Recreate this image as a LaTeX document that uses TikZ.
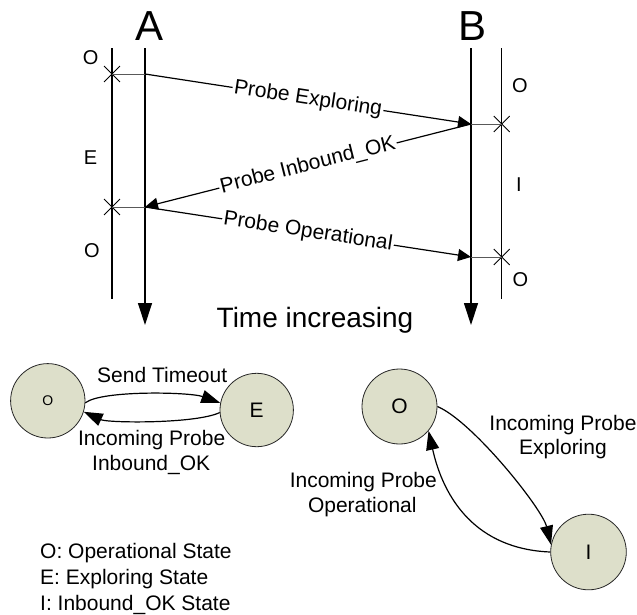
\documentclass[tikz,border=0pt]{standalone}
\usepackage{fontspec}
\setmainfont{Liberation Sans}
\usetikzlibrary{arrows.meta,shapes.misc}
\definecolor{statefill}{RGB}{221,223,202}
\begin{document}
\begin{tikzpicture}[x=1pt,y=-1pt,
  lifeline/.style={line width=1.2pt,-{Triangle[length=22pt,width=14pt]}},
  stateline/.style={line width=1.1pt},
  xmark/.style={cross out,draw,line width=0.9pt,minimum size=15pt,inner sep=0pt},
  tick/.style={line width=0.8pt,black!65},
  msg/.style={line width=1.2pt,-{Triangle[length=13pt,width=12pt]}},
  lbl/.style={font=\fontsize{21pt}{25pt}\selectfont,inner sep=0pt},
  msglabel/.style={lbl,sloped,fill=white,inner sep=1.5pt},
  phase/.style={font=\fontsize{20pt}{24pt}\selectfont,anchor=base,inner sep=0pt},
  state/.style={circle,draw=black!85,line width=0.8pt,fill=statefill,inner sep=0pt,
    font=\fontsize{21pt}{25pt}\selectfont},
  arc/.style={line width=1.2pt,-{Triangle[length=19pt,width=13pt]}}
]
\useasboundingbox (0,0) rectangle (637,614);
\fill[white] (0,0) rectangle (637,614);

% ---------- time lines of the two peers ----------
\node[font=\fontsize{42pt}{46pt}\selectfont,anchor=base,inner sep=0pt] (peerA) at (150,40) {A};
\node[font=\fontsize{42pt}{46pt}\selectfont,anchor=base,inner sep=0pt] (peerB) at (473,40) {B};

\coordinate (topA) at (145,48);   \coordinate (endA) at (145,325);
\coordinate (topB) at (471,48);   \coordinate (endB) at (471,325);
\coordinate (stA0) at (112,48);   \coordinate (stA1) at (112,299);
\coordinate (stB0) at (501.7,48); \coordinate (stB1) at (501.7,299);

\draw[lifeline] (topA) -- (endA);
\draw[lifeline] (topB) -- (endB);
\draw[stateline] (stA0) -- (stA1);
\draw[stateline] (stB0) -- (stB1);

% message points on the time lines
\coordinate (a1) at (145,74);
\coordinate (a2) at (145,207);
\coordinate (b1) at (471,124);
\coordinate (b2) at (471,257);

% state changes
\node[xmark] (xa1) at (112,74) {};
\node[xmark] (xa2) at (112,207) {};
\node[xmark] (xb1) at (501.7,124) {};
\node[xmark] (xb2) at (501.7,257) {};
\draw[tick] (xa1.center) -- (a1);
\draw[tick] (xa2.center) -- (a2);
\draw[tick] (b1) -- (xb1.center);
\draw[tick] (b2) -- (xb2.center);

% states along the time lines
\node[phase] (pa1) at (90.7,64)  {O};
\node[phase] (pa2) at (90.5,164) {E};
\node[phase] (pa3) at (92,257.3) {O};
\node[phase] (pb1) at (520,92.7) {O};
\node[phase] (pb2) at (519,191) {I};
\node[phase] (pb3) at (520.3,286.7) {O};

% probes
\draw[msg] (a1) -- node[msglabel] {Probe Exploring} (b1);
\draw[msg] (b1) -- node[msglabel] {Probe Inbound\_OK} (a2);
\draw[msg] (a2) -- node[msglabel] {Probe Operational} (b2);

\node[font=\fontsize{28pt}{32pt}\selectfont,anchor=base,inner sep=0pt] (time) at (315,327.3) {Time increasing};

% ---------- state machine of the sender ----------
\node[state,minimum size=74.4pt,font=\fontsize{14pt}{16pt}\selectfont] (oL) at (47.8,400.8) {O};
\node[state,minimum size=73.4pt] (eL) at (256.7,410) {E};
\draw[arc] (oL.-3) .. controls (102,390) and (190,392) .. (eL.169);
\draw[arc] (eL.184) .. controls (195,424) and (108,423) .. (oL.-17);
\node[lbl,anchor=base] (sendTO) at (162.2,382.3) {Send Timeout};
\node[lbl,anchor=base] (inOK1) at (151.7,445) {Incoming Probe};
\node[lbl,anchor=base] (inOK2) at (151.2,470) {Inbound\_OK};

% ---------- state machine of the receiver ----------
\node[state,minimum size=75pt] (oR) at (399.5,406.5) {O};
\node[state,minimum size=75.6pt] (iR) at (588.5,552) {I};
\draw[arc] (oR.0) .. controls (472.3,421.1) and (542.1,508.3) .. (iR.169);
\draw[arc] (iR.180) .. controls (475.7,549) and (443.6,498.5) .. (oR.-40);
\node[lbl,anchor=base] (inEx1) at (563,430.7) {Incoming Probe};
\node[lbl,anchor=base] (inEx2) at (563,454) {Exploring};
\node[lbl,anchor=base] (inOp1) at (363.3,487.3) {Incoming Probe};
\node[lbl,anchor=base] (inOp2) at (362.3,512.7) {Operational};

% ---------- legend ----------
\node[lbl,anchor=base west] (legO) at (40,558.3) {O: Operational State};
\node[lbl,anchor=base west] (legE) at (40,584) {E: Exploring State};
\node[lbl,anchor=base west] (legI) at (40,610) {I: Inbound\_OK State};
\end{tikzpicture}
\end{document}
